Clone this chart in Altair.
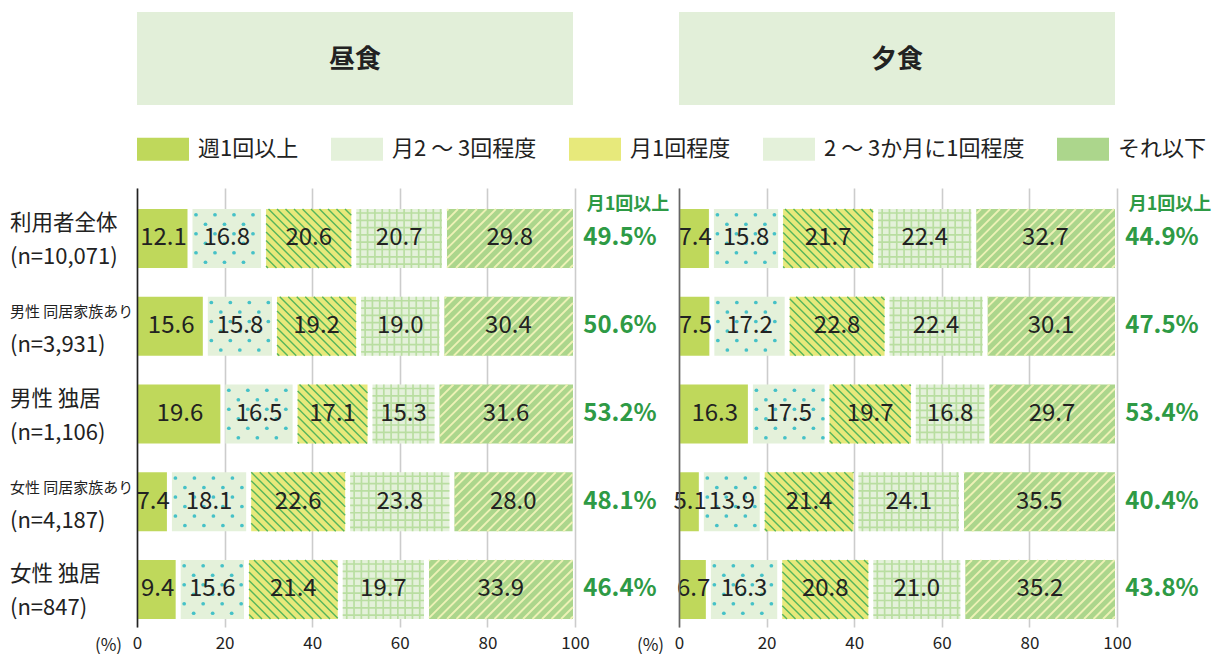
import altair as alt
import pandas as pd

# ---------------- data ----------------
group_line1 = ["利用者全体", "男性 同居家族あり", "男性 独居", "女性 同居家族あり", "女性 独居"]
group_line2 = ["(n=10,071)", "(n=3,931)", "(n=1,106)", "(n=4,187)", "(n=847)"]
categories = ["週1回以上", "月2 ～ 3回程度", "月1回程度", "2 ～ 3か月に1回程度", "それ以下"]

lunch_week = [12.1, 15.6, 19.6, 7.4, 9.4]
lunch_m23 = [16.8, 15.8, 16.5, 18.1, 15.6]
lunch_m1 = [20.6, 19.2, 17.1, 22.6, 21.4]
lunch_23m = [20.7, 19.0, 15.3, 23.8, 19.7]
lunch_less = [29.8, 30.4, 31.6, 28.0, 33.9]
lunch_monthly = [49.5, 50.6, 53.2, 48.1, 46.4]

dinner_week = [7.4, 7.5, 16.3, 5.1, 6.7]
dinner_m23 = [15.8, 17.2, 17.5, 13.9, 16.3]
dinner_m1 = [21.7, 22.8, 19.7, 21.4, 20.8]
dinner_23m = [22.4, 22.4, 16.8, 24.1, 21.0]
dinner_less = [32.7, 30.1, 29.7, 35.5, 35.2]
dinner_monthly = [44.9, 47.5, 53.4, 40.4, 43.8]

x_ticks = [0, 20, 40, 60, 80, 100]
panel_titles = ["昼食", "夕食"]
monthly_header = "月1回以上"

# ---------------- style / layout ----------------
FONT = "Noto Sans CJK JP"
W, H = 438, 439
YMIN, YMAX = -0.5755, 4.4274
BAR_HALF = 29.5
GAP = 5.0
base_colors = ["#bfd85b", "#e4f1da", "#e7e97b", "#e4f1da", "#acd68c"]
GREEN = "#2e9a45"
TEXT = "#222222"


def px_of(u):
    return u * W / 100.0


def py_of(v):
    return (v - YMIN) * H / (YMAX - YMIN)


def ux(px):
    return px * 100.0 / W


def vy(py):
    return YMIN + py * (YMAX - YMIN) / H


def build(series):
    bars, dots, rules = [], [], []
    for r in range(len(group_line1)):
        cum = 0.0
        for c, cat in enumerate(categories):
            val = series[c][r]
            s, e = cum, min(cum + val, 100.0)
            cum += val
            x0 = px_of(s) + (GAP / 2 if s > 0.01 else 0.5)
            x1 = px_of(e) - (GAP / 2 if e < 99.9 else 2.0)
            yc = py_of(r)
            y0, y1 = yc - BAR_HALF, yc + BAR_HALF
            bars.append(dict(row=r, cat=cat, x0=ux(x0), x1=ux(x1), y0=vy(y0), y1=vy(y1),
                             mid=(s + e) / 2, label=f"{val:.1f}"))
            if c == 1:  # dots
                p = 9.5
                for j in range(6):
                    yy = y0 + 5.75 + j * p
                    xx = x0 + 3.5 + (j % 2) * p
                    while xx <= x1 - 1.5:
                        dots.append(dict(x=ux(xx), y=vy(yy)))
                        xx += 2 * p
            elif c == 2:  # "\" stripes
                sp = 8.5
                k = (int((y0 - x1) // sp) - 1) * sp
                while k <= y1 - x0:
                    xa, xb = max(x0, y0 - k), min(x1, y1 - k)
                    if xb - xa > 0.3:
                        rules.append(dict(kind="bs", x=ux(xa), x2=ux(xb), y=vy(xa + k), y2=vy(xb + k)))
                    k += sp
            elif c == 3:  # grid
                sp = 7.3
                xx = x0 + 4.0
                while xx < x1 - 0.5:
                    rules.append(dict(kind="grid", x=ux(xx), x2=ux(xx), y=vy(y0), y2=vy(y1)))
                    xx += sp
                yy = y0 + 4.0
                while yy < y1 - 0.5:
                    rules.append(dict(kind="grid", x=ux(x0), x2=ux(x1), y=vy(yy), y2=vy(yy)))
                    yy += sp
            elif c == 4:  # "/" stripes
                sp = 9.5
                k = (int((x0 + y0) // sp) - 1) * sp
                while k <= x1 + y1:
                    xa, xb = max(x0, k - y1), min(x1, k - y0)
                    if xb - xa > 0.3:
                        rules.append(dict(kind="fs", x=ux(xa), x2=ux(xb), y=vy(k - xa), y2=vy(k - xb)))
                    k += sp
    return pd.DataFrame(bars), pd.DataFrame(dots), pd.DataFrame(rules)


xs = alt.Scale(domain=[0, 100], nice=False, zero=False)
ys = alt.Scale(domain=[YMIN, YMAX], reverse=True, nice=False, zero=False)


def panel(series, monthly, title, show_labels, domain_color):
    bars, dots, rules = build(series)
    xaxis = alt.Axis(values=x_ticks, grid=True, gridColor="#cccccc", gridWidth=1.6,
                     domain=False, ticks=False, labelFontSize=17, labelPadding=8,
                     labelColor=TEXT, labelFlush=False, title="(%)", titleX=-29, titleY=18,
                     titleAlign="center", titleBaseline="middle", titleFontWeight="normal",
                     titleFontSize=17, titleColor=TEXT)
    yaxis = alt.Axis(domain=True, domainColor=domain_color, domainWidth=1.6, labels=False,
                     ticks=False, grid=False, title=None, zindex=1)

    def X(f):
        return alt.X(f, scale=xs, axis=xaxis)

    def Y(f):
        return alt.Y(f, scale=ys, axis=yaxis)

    legend = alt.Legend(title=None, orient="none", legendX=0, legendY=-65, direction="horizontal",
                        symbolType="M-1,-0.44H1V0.44H-1Z", symbolSize=2704, symbolStrokeWidth=0,
                        symbolOpacity=1, labelFontSize=22, labelOffset=9, columnPadding=32,
                        labelColor=TEXT, padding=0, labelLimit=400)

    bar_layer = alt.Chart(bars).mark_rect().encode(
        x=X("x0:Q"), x2="x1:Q", y=Y("y0:Q"), y2="y1:Q",
        color=alt.Color("cat:N", scale=alt.Scale(domain=categories, range=base_colors), legend=legend),
    )
    grid_layer = alt.Chart(rules[rules.kind == "grid"]).mark_rule(color="#b9dea1", strokeWidth=1.7).encode(
        x=X("x:Q"), x2="x2:Q", y=Y("y:Q"), y2="y2:Q")
    bs_layer = alt.Chart(rules[rules.kind == "bs"]).mark_rule(color="#55b55c", strokeWidth=1.4).encode(
        x=X("x:Q"), x2="x2:Q", y=Y("y:Q"), y2="y2:Q")
    fs_layer = alt.Chart(rules[rules.kind == "fs"]).mark_rule(color="#eef2b6", strokeWidth=1.8).encode(
        x=X("x:Q"), x2="x2:Q", y=Y("y:Q"), y2="y2:Q")
    dot_layer = alt.Chart(dots).mark_circle(color="#45c1c7", opacity=1, size=14).encode(
        x=X("x:Q"), y=Y("y:Q"))
    val_layer = alt.Chart(bars).mark_text(fontSize=24, color=TEXT).encode(
        x=X("mid:Q"), y=Y("row:Q"), text="label:N")

    mdf = pd.DataFrame({"row": list(range(len(monthly))), "pct": [f"{v:.1f}%" for v in monthly]})
    pct_layer = alt.Chart(mdf).mark_text(fontSize=24, fontWeight="bold", color=GREEN).encode(
        x=alt.value(W + 45), y=Y("row:Q"), text="pct:N")
    hdr = alt.Chart(pd.DataFrame({"t": [monthly_header]})).mark_text(
        fontSize=18, fontWeight="bold", color=GREEN).encode(
        x=alt.value(W + 53), y=alt.value(17), text="t:N")

    tdf = pd.DataFrame({"t": [title]})
    box = alt.Chart(tdf).mark_rect(color="#e2efd9").encode(
        x=alt.value(0), x2=alt.value(W - 2), y=alt.value(-176), y2=alt.value(-83))
    box_text = alt.Chart(tdf).mark_text(fontSize=26, fontWeight="bold", color=TEXT).encode(
        x=alt.value((W - 2) / 2), y=alt.value(-128), text="t:N")

    layers = [bar_layer, grid_layer, bs_layer, fs_layer, dot_layer, val_layer, pct_layer, hdr, box, box_text]

    if show_labels:
        gdf = pd.DataFrame({"row": list(range(len(group_line1))), "l1": group_line1, "l2": group_line2})
        lab1 = alt.Chart(gdf).mark_text(align="left", baseline="middle", dy=-14, color=TEXT).encode(
            x=alt.value(-127), y=Y("row:Q"), text="l1:N",
            size=alt.condition("length(datum.l1) > 6", alt.value(15), alt.value(21.5)))
        lab2 = alt.Chart(gdf).mark_text(align="left", baseline="middle", dy=19, color=TEXT, fontSize=22).encode(
            x=alt.value(-127), y=Y("row:Q"), text="l2:N")
        layers += [lab1, lab2]

    return alt.layer(*layers).properties(width=W, height=H)


lunch = [lunch_week, lunch_m23, lunch_m1, lunch_23m, lunch_less]
dinner = [dinner_week, dinner_m23, dinner_m1, dinner_23m, dinner_less]

left = panel(lunch, lunch_monthly, panel_titles[0], True, "#222222")
right = panel(dinner, dinner_monthly, panel_titles[1], False, "#666666")

chart = alt.hconcat(left, right, spacing=104, bounds="flush").resolve_scale(
    x="independent", y="independent", color="shared"
).properties(
    padding={"left": 10, "top": 12, "right": 0, "bottom": 4}
).configure(font=FONT).configure_view(stroke=None)

chart.save("out.html", embed_options={"renderer": "svg", "actions": False})
